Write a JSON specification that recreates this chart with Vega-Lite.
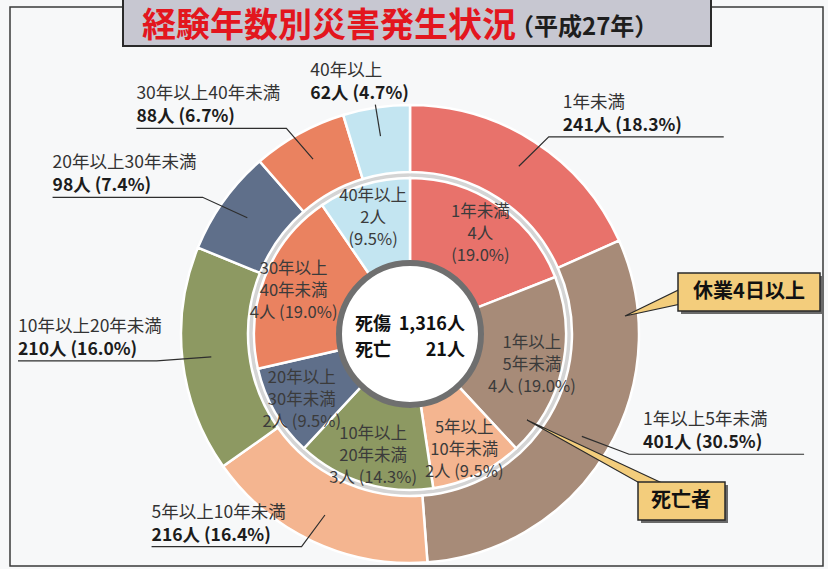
{
  "$schema": "https://vega.github.io/schema/vega-lite/v6.json",
  "width": 813,
  "height": 559,
  "autosize": {"type": "none"},
  "padding": {"left": 10, "top": 7, "right": 5, "bottom": 3},
  "background": "#f7f8f9",
  "config": {
    "view": {"stroke": "#3a3a3a", "strokeWidth": 1.5, "fill": "#f7f8f9"},
    "text": {"font": "Noto Sans CJK JP"}
  },
  "data": {
    "values": [
      {"ring": "outer", "cat": "1年未満", "count": 241},
      {"ring": "outer", "cat": "1年以上5年未満", "count": 401},
      {"ring": "outer", "cat": "5年以上10年未満", "count": 216},
      {"ring": "outer", "cat": "10年以上20年未満", "count": 210},
      {"ring": "outer", "cat": "20年以上30年未満", "count": 98},
      {"ring": "outer", "cat": "30年以上40年未満", "count": 88},
      {"ring": "outer", "cat": "40年以上", "count": 62},
      {"ring": "inner", "cat": "1年未満", "count": 4},
      {"ring": "inner", "cat": "1年以上5年未満", "count": 4},
      {"ring": "inner", "cat": "5年以上10年未満", "count": 2},
      {"ring": "inner", "cat": "10年以上20年未満", "count": 3},
      {"ring": "inner", "cat": "20年以上30年未満", "count": 2},
      {"ring": "inner", "cat": "30年以上40年未満", "count": 4},
      {"ring": "inner", "cat": "40年以上", "count": 2}
    ]
  },
  "transform": [
    {"window": [{"op": "sum", "field": "count", "as": "cum"}], "groupby": ["ring"], "frame": [null, 0]},
    {"joinaggregate": [{"op": "sum", "field": "count", "as": "total"}], "groupby": ["ring"]},
    {"calculate": "(datum.cum - datum.count) / datum.total", "as": "t0"},
    {"calculate": "datum.cum / datum.total", "as": "t1"},
    {"calculate": "(datum.t0 + datum.t1) / 2", "as": "tm"},
    {"calculate": "format(datum.count / datum.total, '.1%')", "as": "pct"},
    {"calculate": "sin(2 * PI * datum.tm)", "as": "sa"},
    {"calculate": "cos(2 * PI * datum.tm)", "as": "ca"},
    {"calculate": "abs(datum.sa) < 0.25", "as": "top"},
    {"calculate": "datum.top ? 235 * datum.sa : 255 * datum.sa", "as": "ex"},
    {"calculate": "datum.top ? 232 * datum.ca : 235 * datum.ca", "as": "ey"},
    {"calculate": "datum.top ? datum.ex : (datum.sa > 0 ? min(datum.ex + 175, 398) : max(datum.ex - 150, -392))", "as": "endx"},
    {"calculate": "datum.top ? datum.ex - 65 : (datum.sa > 0 ? datum.ex + 14 : datum.endx)", "as": "tx"},
    {"calculate": "datum.ey + 6", "as": "ty2"},
    {"calculate": "datum.ty2 + 23", "as": "ty1"},
    {"calculate": "datum.count + '人 (' + datum.pct + ')'", "as": "valueLabel"}
  ],
  "layer": [
    {
      "transform": [{"aggregate": [{"op": "count", "as": "n"}]}],
      "mark": {"type": "arc", "radius": 163, "radius2": 155, "theta": 0, "theta2": 6.2832, "color": "#d4d4d4"},
      "encoding": {
        "x": {"datum": 0, "type": "quantitative", "scale": {"domain": [-400, 413], "nice": false, "zero": false}, "axis": null},
        "y": {"datum": 0, "type": "quantitative", "scale": {"domain": [-232, 327], "nice": false, "zero": false}, "axis": null}
      }
    },
    {
      "transform": [{"filter": "datum.ring === 'outer'"}],
      "mark": {"type": "arc", "radius": 229, "radius2": 162, "stroke": "#ffffff", "strokeWidth": 2.5},
      "encoding": {
        "theta": {"field": "t0", "type": "quantitative", "stack": null, "scale": {"domain": [0, 1], "range": [0, 6.283185307179586]}},
        "theta2": {"field": "t1"},
        "color": {
          "field": "cat", "type": "nominal", "legend": null,
          "scale": {
            "domain": ["1年未満", "1年以上5年未満", "5年以上10年未満", "10年以上20年未満", "20年以上30年未満", "30年以上40年未満", "40年以上"],
            "range": ["#e8726b", "#a78b78", "#f4b590", "#8d9962", "#5f6f8a", "#ea8260", "#c3e5f1"]
          }
        },
        "x": {"datum": 0, "type": "quantitative", "scale": {"domain": [-400, 413], "nice": false, "zero": false}, "axis": null},
        "y": {"datum": 0, "type": "quantitative", "scale": {"domain": [-232, 327], "nice": false, "zero": false}, "axis": null}
      }
    },
    {
      "transform": [{"filter": "datum.ring === 'inner'"}],
      "mark": {"type": "arc", "radius": 156, "radius2": 72, "stroke": "#ffffff", "strokeWidth": 2.5},
      "encoding": {
        "theta": {"field": "t0", "type": "quantitative", "stack": null, "scale": {"domain": [0, 1], "range": [0, 6.283185307179586]}},
        "theta2": {"field": "t1"},
        "color": {"field": "cat", "type": "nominal", "legend": null},
        "x": {"datum": 0, "type": "quantitative", "scale": {"domain": [-400, 413], "nice": false, "zero": false}, "axis": null},
        "y": {"datum": 0, "type": "quantitative", "scale": {"domain": [-232, 327], "nice": false, "zero": false}, "axis": null}
      }
    },
    {
      "transform": [{"aggregate": [{"op": "count", "as": "n"}]}],
      "mark": {"type": "arc", "radius": 71, "theta": 0, "theta2": 6.2832, "fill": "#ffffff", "stroke": "#6f6f6f", "strokeWidth": 6},
      "encoding": {
        "x": {"datum": 0, "type": "quantitative", "scale": {"domain": [-400, 413], "nice": false, "zero": false}, "axis": null},
        "y": {"datum": 0, "type": "quantitative", "scale": {"domain": [-232, 327], "nice": false, "zero": false}, "axis": null}
      }
    },
    {
      "transform": [
        {"filter": "datum.ring === 'inner'"},
        {"calculate": "indexof(datum.cat, '以上') > 0 && length(datum.cat) > indexof(datum.cat, '以上') + 2 ? [substring(datum.cat, 0, indexof(datum.cat, '以上') + 2), substring(datum.cat, indexof(datum.cat, '以上') + 2), datum.count + '人 (' + datum.pct + ')'] : [datum.cat, datum.count + '人', '(' + datum.pct + ')']", "as": "lines"},
        {"calculate": "125 * datum.sa", "as": "ix"},
        {"calculate": "125 * datum.ca + (length(datum.lines) - 1) * 11 - 3", "as": "iy"}
      ],
      "mark": {"type": "text", "fontSize": 16.5, "lineHeight": 22, "align": "center", "baseline": "middle", "fill": "#3b3b3b"},
      "encoding": {
        "text": {"field": "lines"},
        "x": {"field": "ix", "type": "quantitative", "scale": {"domain": [-400, 413], "nice": false, "zero": false}, "axis": null},
        "y": {"field": "iy", "type": "quantitative", "scale": {"domain": [-232, 327], "nice": false, "zero": false}, "axis": null}
      }
    },
    {
      "transform": [
        {"filter": "datum.ring === 'outer'"},
        {"calculate": "[200 * datum.sa, datum.ex, datum.endx]", "as": "lx"},
        {"calculate": "[200 * datum.ca, datum.ey, datum.ey]", "as": "ly"},
        {"calculate": "[0, 1, 2]", "as": "k"},
        {"flatten": ["lx", "ly", "k"]}
      ],
      "mark": {"type": "line", "color": "#2e2e2e", "strokeWidth": 1.2},
      "encoding": {
        "x": {"field": "lx", "type": "quantitative", "scale": {"domain": [-400, 413], "nice": false, "zero": false}, "axis": null},
        "y": {"field": "ly", "type": "quantitative", "scale": {"domain": [-232, 327], "nice": false, "zero": false}, "axis": null},
        "detail": {"field": "cat"},
        "order": {"field": "k"}
      }
    },
    {
      "transform": [{"filter": "datum.ring === 'outer'"}],
      "mark": {"type": "text", "align": "left", "baseline": "alphabetic", "fontSize": 17.5, "fill": "#333333"},
      "encoding": {
        "text": {"field": "cat"},
        "x": {"field": "tx", "type": "quantitative", "scale": {"domain": [-400, 413], "nice": false, "zero": false}, "axis": null},
        "y": {"field": "ty1", "type": "quantitative", "scale": {"domain": [-232, 327], "nice": false, "zero": false}, "axis": null}
      }
    },
    {
      "transform": [{"filter": "datum.ring === 'outer'"}],
      "mark": {"type": "text", "align": "left", "baseline": "alphabetic", "fontSize": 17.5, "fontWeight": "bold", "fill": "#1c1c1c"},
      "encoding": {
        "text": {"field": "valueLabel"},
        "x": {"field": "tx", "type": "quantitative", "scale": {"domain": [-400, 413], "nice": false, "zero": false}, "axis": null},
        "y": {"field": "ty2", "type": "quantitative", "scale": {"domain": [-232, 327], "nice": false, "zero": false}, "axis": null}
      }
    },
    {
      "transform": [{"aggregate": [{"op": "count", "as": "n"}]}],
      "mark": {"type": "text", "text": ["死傷", "死亡"], "align": "left", "baseline": "middle", "fontSize": 18, "fontWeight": "bold", "lineHeight": 26, "fill": "#111111"},
      "encoding": {
        "x": {"datum": -55, "type": "quantitative", "scale": {"domain": [-400, 413], "nice": false, "zero": false}, "axis": null},
        "y": {"datum": 9, "type": "quantitative", "scale": {"domain": [-232, 327], "nice": false, "zero": false}, "axis": null}
      }
    },
    {
      "transform": [
        {"pivot": "ring", "value": "count"},
        {"calculate": "[format(datum.outer, ',') + '人', format(datum.inner, ',') + '人']", "as": "totals"}
      ],
      "mark": {"type": "text", "align": "right", "baseline": "middle", "fontSize": 18, "fontWeight": "bold", "lineHeight": 26, "fill": "#111111"},
      "encoding": {
        "text": {"field": "totals"},
        "x": {"datum": 55, "type": "quantitative", "scale": {"domain": [-400, 413], "nice": false, "zero": false}, "axis": null},
        "y": {"datum": 9, "type": "quantitative", "scale": {"domain": [-232, 327], "nice": false, "zero": false}, "axis": null}
      }
    },
    {
      "transform": [{"aggregate": [{"op": "count", "as": "n"}]}],
      "mark": {"type": "rect", "fill": "#c7c7d1", "stroke": "#2a2a2a", "strokeWidth": 2},
      "encoding": {
        "x": {"datum": -287, "type": "quantitative", "scale": {"domain": [-400, 413], "nice": false, "zero": false}, "axis": null},
        "x2": {"datum": 301},
        "y": {"datum": 345, "type": "quantitative", "scale": {"domain": [-232, 327], "nice": false, "zero": false}, "axis": null},
        "y2": {"datum": 288}
      }
    },
    {
      "transform": [{"aggregate": [{"op": "count", "as": "n"}]}],
      "mark": {"type": "text", "text": "経験年数別災害発生状況", "align": "left", "baseline": "middle", "fontSize": 34, "fontWeight": "bold", "fill": "#e3161e"},
      "encoding": {
        "x": {"datum": -268, "type": "quantitative", "scale": {"domain": [-400, 413], "nice": false, "zero": false}, "axis": null},
        "y": {"datum": 307, "type": "quantitative", "scale": {"domain": [-232, 327], "nice": false, "zero": false}, "axis": null}
      }
    },
    {
      "transform": [{"aggregate": [{"op": "count", "as": "n"}]}],
      "mark": {"type": "text", "text": "（平成27年）", "align": "left", "baseline": "middle", "fontSize": 24, "fontWeight": "bold", "fill": "#1e1e1e"},
      "encoding": {
        "x": {"datum": 100, "type": "quantitative", "scale": {"domain": [-400, 413], "nice": false, "zero": false}, "axis": null},
        "y": {"datum": 306, "type": "quantitative", "scale": {"domain": [-232, 327], "nice": false, "zero": false}, "axis": null}
      }
    },
    {
      "transform": [{"aggregate": [{"op": "count", "as": "n"}]}],
      "mark": {"type": "point", "shape": "M0,0L0.37,-0.18L0.37,-0.08Z", "size": 90000, "filled": true, "opacity": 1, "fill": "#f3cd7c", "stroke": "#2a2a2a", "strokeWidth": 1.2},
      "encoding": {
        "x": {"datum": 215, "type": "quantitative", "scale": {"domain": [-400, 413], "nice": false, "zero": false}, "axis": null},
        "y": {"datum": 18, "type": "quantitative", "scale": {"domain": [-232, 327], "nice": false, "zero": false}, "axis": null}
      }
    },
    {
      "transform": [{"aggregate": [{"op": "count", "as": "n"}]}],
      "mark": {"type": "rect", "fill": "#6a6a6a"},
      "encoding": {
        "x": {"datum": 271, "type": "quantitative", "scale": {"domain": [-400, 413], "nice": false, "zero": false}, "axis": null},
        "x2": {"datum": 413},
        "y": {"datum": 58, "type": "quantitative", "scale": {"domain": [-232, 327], "nice": false, "zero": false}, "axis": null},
        "y2": {"datum": 20}
      }
    },
    {
      "transform": [{"aggregate": [{"op": "count", "as": "n"}]}],
      "mark": {"type": "rect", "fill": "#f3cd7c", "stroke": "#2a2a2a", "strokeWidth": 1.5},
      "encoding": {
        "x": {"datum": 268, "type": "quantitative", "scale": {"domain": [-400, 413], "nice": false, "zero": false}, "axis": null},
        "x2": {"datum": 410},
        "y": {"datum": 61, "type": "quantitative", "scale": {"domain": [-232, 327], "nice": false, "zero": false}, "axis": null},
        "y2": {"datum": 23}
      }
    },
    {
      "transform": [{"aggregate": [{"op": "count", "as": "n"}]}],
      "mark": {"type": "text", "text": "休業4日以上", "align": "center", "baseline": "middle", "fontSize": 20, "fontWeight": "bold", "fill": "#111111"},
      "encoding": {
        "x": {"datum": 339, "type": "quantitative", "scale": {"domain": [-400, 413], "nice": false, "zero": false}, "axis": null},
        "y": {"datum": 42, "type": "quantitative", "scale": {"domain": [-232, 327], "nice": false, "zero": false}, "axis": null}
      }
    },
    {
      "transform": [{"aggregate": [{"op": "count", "as": "n"}]}],
      "mark": {"type": "point", "shape": "M0,0L0.75,0.42L0.9,0.42Z", "size": 90000, "filled": true, "opacity": 1, "fill": "#f3cd7c", "stroke": "#2a2a2a", "strokeWidth": 1.2},
      "encoding": {
        "x": {"datum": 117, "type": "quantitative", "scale": {"domain": [-400, 413], "nice": false, "zero": false}, "axis": null},
        "y": {"datum": -86, "type": "quantitative", "scale": {"domain": [-232, 327], "nice": false, "zero": false}, "axis": null}
      }
    },
    {
      "transform": [{"aggregate": [{"op": "count", "as": "n"}]}],
      "mark": {"type": "rect", "fill": "#6a6a6a"},
      "encoding": {
        "x": {"datum": 231, "type": "quantitative", "scale": {"domain": [-400, 413], "nice": false, "zero": false}, "axis": null},
        "x2": {"datum": 318},
        "y": {"datum": -151, "type": "quantitative", "scale": {"domain": [-232, 327], "nice": false, "zero": false}, "axis": null},
        "y2": {"datum": -189}
      }
    },
    {
      "transform": [{"aggregate": [{"op": "count", "as": "n"}]}],
      "mark": {"type": "rect", "fill": "#f3cd7c", "stroke": "#2a2a2a", "strokeWidth": 1.5},
      "encoding": {
        "x": {"datum": 228, "type": "quantitative", "scale": {"domain": [-400, 413], "nice": false, "zero": false}, "axis": null},
        "x2": {"datum": 315},
        "y": {"datum": -148, "type": "quantitative", "scale": {"domain": [-232, 327], "nice": false, "zero": false}, "axis": null},
        "y2": {"datum": -186}
      }
    },
    {
      "transform": [{"aggregate": [{"op": "count", "as": "n"}]}],
      "mark": {"type": "text", "text": "死亡者", "align": "center", "baseline": "middle", "fontSize": 20, "fontWeight": "bold", "fill": "#111111"},
      "encoding": {
        "x": {"datum": 271, "type": "quantitative", "scale": {"domain": [-400, 413], "nice": false, "zero": false}, "axis": null},
        "y": {"datum": -167, "type": "quantitative", "scale": {"domain": [-232, 327], "nice": false, "zero": false}, "axis": null}
      }
    }
  ]
}
